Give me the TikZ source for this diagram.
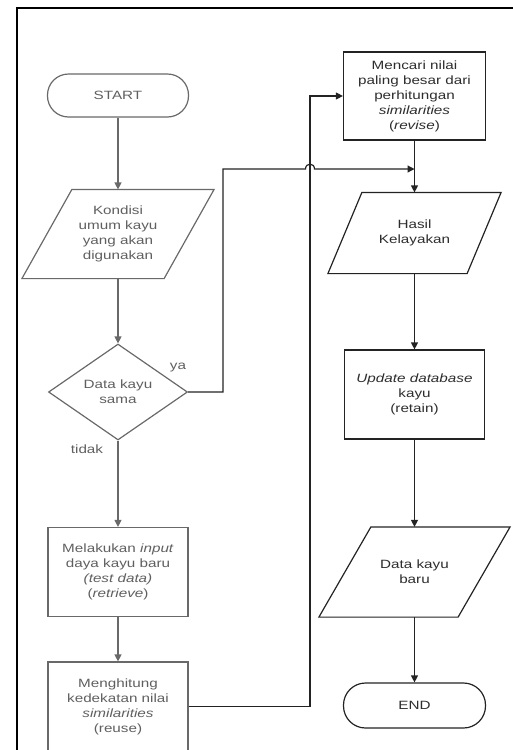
\documentclass[tikz,border=0pt]{standalone}
\usepackage{fontspec}
\setmainfont{Liberation Sans}[FakeStretch=1.27]
\usetikzlibrary{shapes.geometric,arrows.meta}
\definecolor{lline}{RGB}{105,105,105}
\definecolor{ltext}{RGB}{95,95,95}
\definecolor{rline}{RGB}{35,35,35}
\definecolor{rtext}{RGB}{45,45,45}
\begin{document}
\begin{tikzpicture}[x=1pt,y=-1pt,
  base/.style={font=\fontsize{12}{15}\selectfont, align=center, inner sep=0pt, line width=1.2pt},
  lshape/.style={base, draw=lline, text=ltext},
  rshape/.style={base, draw=rline, text=rtext},
  lbox/.style={lshape, minimum width=140pt, minimum height=89pt},
  rbox/.style={rshape, minimum width=141pt, minimum height=89pt},
  term/.style={minimum width=141pt, minimum height=43pt, rounded corners=21pt},
  lio/.style={base, text=ltext},
  rio/.style={base, text=rtext},
  lout/.style={draw=lline, line width=1.2pt},
  rout/.style={draw=rline, line width=1.2pt},
  lconn/.style={draw=lline, line width=1.2pt, -{Triangle[width=7pt,length=7pt]}},
  rconn/.style={draw=rline, line width=1.2pt, -{Triangle[width=7pt,length=7pt]}},
  lbl/.style={font=\fontsize{12}{15}\selectfont, text=ltext, inner sep=0pt},
  frame/.style={draw=black, line width=2pt}
]
\useasboundingbox (0,0) rectangle (513,750);
% frame
\coordinate (fbl) at (16.5,752);
\coordinate (ftl) at (16.5,8);
\coordinate (ftr) at (515,8);
\draw[frame] (fbl) -- (ftl) -- (ftr);

% left column
\node[lshape, term] (start) at (118,95.5) {START};
\node[lio, minimum width=141pt, minimum height=88pt] (kond) at (118,234)
  {Kondisi\\umum kayu\\yang akan\\digunakan};
\draw[lout] ([xshift=25pt]kond.north west) -- ([xshift=25pt]kond.north east)
  -- ([xshift=-25pt]kond.south east) -- ([xshift=-25pt]kond.south west) -- cycle;
\node[lshape, shape=diamond, aspect=1.45, minimum width=139pt, minimum height=96pt] (dia) at (118,392)
  {Data kayu\\sama};
\node[lbox] (input) at (118,572)
  {Melakukan \textit{input}\\daya kayu baru\\\textit{(test data)}\\(\textit{retrieve})};
\node[lbox] (hitung) at (118,706.5)
  {Menghitung\\kedekatan nilai\\\textit{similarities}\\(reuse)};
\node[lbl] (ya) at (178,368) {ya};
\node[lbl] (tidak) at (87,449) {tidak};

% right column
\node[rbox, minimum width=142pt, minimum height=88pt] (cari) at (414.5,96)
  {Mencari nilai\\paling besar dari\\perhitungan\\\textit{similarities}\\(\textit{revise})};
\node[rio, minimum width=138pt, minimum height=80pt] (hasil) at (414.5,233)
  {Hasil\\Kelayakan};
\draw[rout] ([xshift=17pt]hasil.north west) -- ([xshift=17pt]hasil.north east)
  -- ([xshift=-17pt]hasil.south east) -- ([xshift=-17pt]hasil.south west) -- cycle;
\node[rbox, minimum width=140pt] (update) at (414.5,394.5)
  {\textit{Update database}\\kayu\\(retain)};
\node[rio, minimum width=138pt, minimum height=89pt] (baru) at (414.5,572)
  {Data kayu\\baru};
\draw[rout] ([xshift=26pt]baru.north west) -- ([xshift=26pt]baru.north east)
  -- ([xshift=-26pt]baru.south east) -- ([xshift=-26pt]baru.south west) -- cycle;
\node[rshape, term, minimum width=142pt, minimum height=45pt, rounded corners=22pt] (end) at (414.5,705.5) {END};

% connectors left
\draw[lconn] (start) -- (kond);
\draw[lconn] (kond) -- (dia);
\draw[lconn] (dia) -- (input);
\draw[lconn] (input) -- (hitung);

% reuse -> revise
\coordinate (vx) at (310,0);
\draw[rconn] (hitung.east) -- (hitung.east -| vx) -- (cari.west -| vx) -- (cari.west);

% ya branch with hop
\coordinate (yx) at (223,169);
\coordinate (hopa) at (305.5,169);
\coordinate (hopb) at (314.5,169);
\coordinate (join) at (414.5,169);
\draw[rconn] (dia.east) -- (dia.east -| yx) -- (yx) -- (hopa)
  .. controls (305.5,162.5) and (314.5,162.5) .. (hopb) -- (join);

% connectors right
\draw[rconn] (cari) -- (hasil);
\draw[rconn] (hasil) -- (update);
\draw[rconn] (update) -- (baru);
\draw[rconn] (baru) -- (end);
\end{tikzpicture}
\end{document}
